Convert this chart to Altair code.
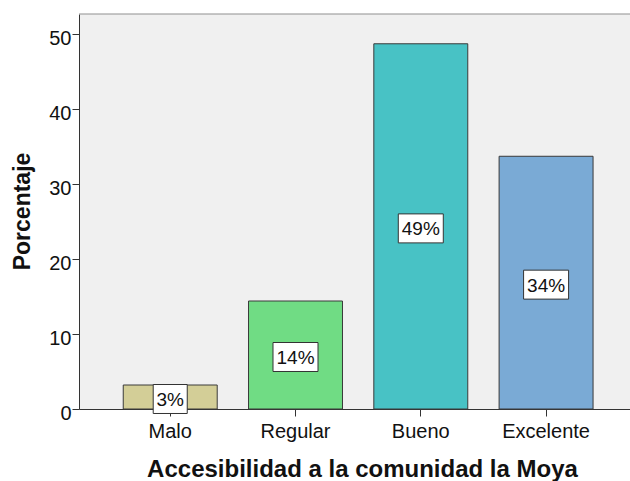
import altair as alt
import pandas as pd

# Categories, percentages and bar colours
categorias = ["Malo", "Regular", "Bueno", "Excelente"]
porcentajes = [3.2, 14.4, 48.7, 33.7]
colores = ["#D3CE97", "#70DC84", "#48C2C5", "#7AAAD5"]
ticks_y = [0, 10, 20, 30, 40, 50]

FUENTE = "Liberation Sans"
ANCHO, ALTO = 551, 395

df = pd.DataFrame({"categoria": categorias, "porcentaje": porcentajes})
df["mitad"] = df["porcentaje"] / 2
df["etiqueta"] = df["porcentaje"].round().astype(int).astype(str) + "%"


def caja(texto):
    # rectangular symbol path sized to the label text
    digitos = len(texto) - 1
    hw = (23 + 11 * digitos) / 45
    hh = 29 / 45
    return f"M{-hw:.3f},{-hh:.3f}L{hw:.3f},{-hh:.3f}L{hw:.3f},{hh:.3f}L{-hw:.3f},{hh:.3f}Z"


df["caja"] = df["etiqueta"].apply(caja)

x_enc = alt.X(
    "categoria:N",
    sort=categorias,
    scale=alt.Scale(paddingInner=0.25, paddingOuter=0.324, align=0.545),
    axis=alt.Axis(
        title="Accesibilidad a la comunidad la Moya",
        labelAngle=0,
        labelFont=FUENTE,
        labelFontSize=20,
        labelColor="#111111",
        labelPadding=5,
        tickSize=7,
        tickColor="#333333",
        domainColor="#333333",
        titleFont=FUENTE,
        titleFontSize=24,
        titleFontWeight="bold",
        titleColor="#111111",
        titleX=283,
        titleY=67,
        titleBaseline="alphabetic",
    ),
)

y_enc = alt.Y(
    "porcentaje:Q",
    scale=alt.Scale(domain=[0, 52.67], nice=False),
    axis=alt.Axis(
        values=ticks_y,
        title="Porcentaje",
        grid=False,
        labelFont=FUENTE,
        labelFontSize=20,
        labelColor="#111111",
        labelPadding=1,
        labelOffset=4,
        tickSize=7,
        tickColor="#333333",
        domainColor="#333333",
        titleFont=FUENTE,
        titleFontSize=23,
        titleFontWeight="bold",
        titleColor="#111111",
        titleAngle=270,
        titleX=-50,
        titleY=197,
        titleAlign="center",
        titleBaseline="alphabetic",
    ),
)

barras = alt.Chart(df).mark_bar(stroke="#3a3a3a", strokeWidth=1).encode(
    x=x_enc,
    y=y_enc,
    color=alt.Color(
        "categoria:N",
        scale=alt.Scale(domain=categorias, range=colores),
        legend=None,
    ),
)

cajas = alt.Chart(df).mark_point(
    filled=True, fill="white", stroke="#333333", strokeWidth=1,
    size=2025, opacity=1, yOffset=2,
).encode(
    x=alt.X("categoria:N", sort=categorias),
    y=alt.Y("mitad:Q"),
    shape=alt.Shape("caja:N", scale=None),
)

textos = alt.Chart(df).mark_text(
    font=FUENTE, fontSize=19, color="#111111",
    align="center", baseline="middle", yOffset=3,
).encode(
    x=alt.X("categoria:N", sort=categorias),
    y=alt.Y("mitad:Q"),
    text="etiqueta:N",
)

# top frame line of the plot area
marco = alt.Chart(pd.DataFrame({"k": [0]})).mark_rule(
    color="#8f8f8f", strokeWidth=1
).encode(y=alt.value(0), x=alt.value(0), x2=alt.value(ANCHO))

chart = (
    alt.layer(barras, cajas, textos, marco)
    .properties(
        width=ANCHO,
        height=ALTO,
        autosize=alt.AutoSizeParams(type="none"),
        padding={"left": 79, "top": 14, "right": 0, "bottom": 72},
        background="white",
    )
    .configure_view(fill="#F0F0F0", stroke=None)
)

chart.save("out.html", embed_options={"renderer": "svg", "actions": False})
